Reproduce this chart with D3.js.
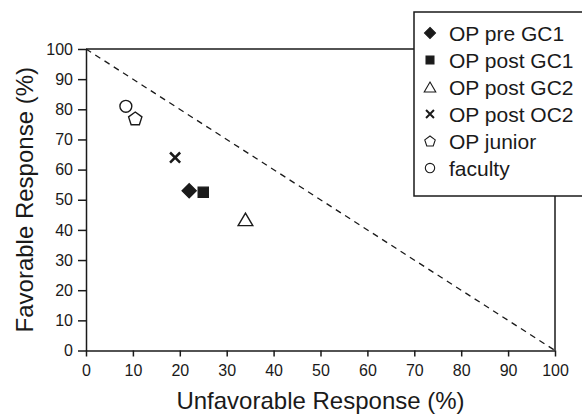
<!DOCTYPE html>
<html>
<head>
<meta charset="utf-8">
<script src="https://d3js.org/d3.v7.min.js"></script>
<style>
  body { margin: 0; background: #fff; }
  svg { display: block; font-family: "Liberation Sans", Arial, sans-serif; }
</style>
</head>
<body>
<svg id="chart"></svg>
<script>
  // Data
  const groups = ["OP pre GC1", "OP post GC1", "OP post GC2", "OP post OC2", "OP junior", "faculty"];
  const unfavorable = [22, 25, 34, 19, 10.5, 8.5];
  const favorable = [53, 52.5, 43.5, 64, 77, 81];
  const markers = ["diamond", "square", "triangle", "cross", "pentagon", "circle"];
  const xTicks = [0, 10, 20, 30, 40, 50, 60, 70, 80, 90, 100];
  const yTicks = [0, 10, 20, 30, 40, 50, 60, 70, 80, 90, 100];
  const refLine = [[0, 100], [100, 0]];

  const width = 582, height = 414;
  const ink = "#1a1a1a";

  const svg = d3.select("#chart")
    .attr("width", width)
    .attr("height", height);

  const x = d3.scaleLinear().domain([0, 100]).range([86, 555]);
  const y = d3.scaleLinear().domain([0, 100]).range([350.5, 49]);

  // marker shapes, r is roughly half the size
  function markerPath(type, r) {
    const p = d3.path();
    if (type === "diamond") {
      p.moveTo(0, -r); p.lineTo(r, 0); p.lineTo(0, r); p.lineTo(-r, 0); p.closePath();
    } else if (type === "square") {
      const s = r * 0.72;
      p.rect(-s, -s, 2 * s, 2 * s);
    } else if (type === "triangle") {
      const w = r * 1.05, h = r * 0.9;
      p.moveTo(0, -h); p.lineTo(w, h); p.lineTo(-w, h); p.closePath();
    } else if (type === "cross") {
      const s = r * 0.72;
      p.moveTo(-s, -s); p.lineTo(s, s); p.moveTo(s, -s); p.lineTo(-s, s);
    } else if (type === "pentagon") {
      for (let k = 0; k < 5; k++) {
        const a = -Math.PI / 2 + k * 2 * Math.PI / 5;
        const px = r * Math.cos(a), py = r * Math.sin(a) + r * 0.1;
        if (k === 0) p.moveTo(px, py); else p.lineTo(px, py);
      }
      p.closePath();
    } else {
      p.arc(0, 0, r * 0.85, 0, 2 * Math.PI);
    }
    return p.toString();
  }
  const filled = t => t === "diamond" || t === "square";

  function styleMarker(sel, type, sw) {
    sel.attr("fill", filled(type) ? ink : (type === "cross" ? "none" : "#fff"))
      .attr("stroke", ink)
      .attr("stroke-width", type === "cross" ? sw * 1.8 : sw)
      .attr("stroke-linejoin", "miter");
  }

  // axes
  const yAxis = d3.axisLeft(y).tickValues(yTicks).tickSize(8).tickSizeOuter(0).tickPadding(5);
  const xAxis = d3.axisBottom(x).tickValues(xTicks).tickSize(6).tickSizeOuter(0).tickPadding(8);

  const gy = svg.append("g").attr("transform", `translate(${x(0)},0)`).call(yAxis);
  const gx = svg.append("g").attr("transform", `translate(0,${y(0)})`).call(xAxis);
  [gx, gy].forEach(g => {
    g.selectAll("path, line").attr("stroke", ink).attr("stroke-width", 1.5);
    g.selectAll("text").attr("fill", ink).style("font-size", "16px");
  });

  // frame top and right
  svg.append("line")
    .attr("x1", x(0)).attr("x2", x(100)).attr("y1", y(100)).attr("y2", y(100))
    .attr("stroke", ink).attr("stroke-width", 1.5);
  svg.append("line")
    .attr("x1", x(100)).attr("x2", x(100)).attr("y1", y(100)).attr("y2", y(0))
    .attr("stroke", ink).attr("stroke-width", 1.5);

  // dashed diagonal
  svg.append("path")
    .attr("d", d3.line().x(d => x(d[0])).y(d => y(d[1]))(refLine))
    .attr("fill", "none")
    .attr("stroke", ink)
    .attr("stroke-width", 1.3)
    .attr("stroke-dasharray", "6,5");

  // points
  groups.forEach((g, i) => {
    svg.append("path")
      .attr("transform", `translate(${x(unfavorable[i])},${y(favorable[i])})`)
      .attr("d", markerPath(markers[i], 7))
      .call(styleMarker, markers[i], 1.4);
  });

  // axis titles
  svg.append("text")
    .attr("x", x(50)).attr("y", 409)
    .attr("text-anchor", "middle")
    .attr("fill", ink)
    .style("font-size", "24px")
    .text("Unfavorable Response (%)");

  svg.append("text")
    .attr("transform", `translate(33,${y(50)}) rotate(-90)`)
    .attr("text-anchor", "middle")
    .attr("fill", ink)
    .style("font-size", "24px")
    .text("Favorable Response (%)");

  // legend
  const legend = svg.append("g");
  legend.append("rect")
    .attr("x", 414).attr("y", 12).attr("width", 190).attr("height", 184)
    .attr("fill", "#fff").attr("stroke", ink).attr("stroke-width", 1.5);

  groups.forEach((g, i) => {
    const ly = 33 + i * 27;
    legend.append("path")
      .attr("transform", `translate(430,${ly})`)
      .attr("d", markerPath(markers[i], 5.5))
      .call(styleMarker, markers[i], 1.1);
    legend.append("text")
      .attr("x", 449).attr("y", ly)
      .attr("dy", "0.36em")
      .attr("fill", ink)
      .style("font-size", "21px")
      .text(g);
  });
</script>
</body>
</html>
